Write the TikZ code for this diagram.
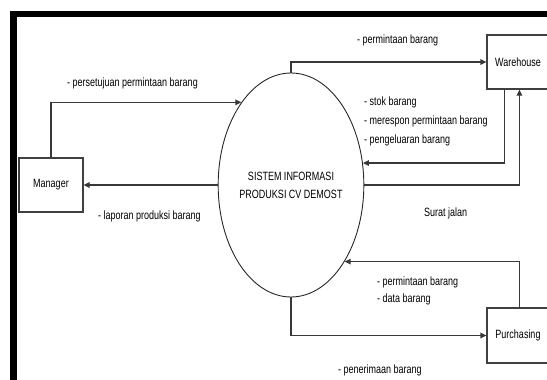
\documentclass[tikz,border=0pt]{standalone}
\usepackage{fontspec}
\setmainfont{Liberation Sans}[FakeStretch=0.75]
\usetikzlibrary{arrows.meta,calc,shapes.geometric}

\tikzset{
  entity/.style={draw=black!75, line width=1.2pt, minimum width=64pt, minimum height=54pt,
    inner sep=0pt, font=\fontsize{12}{14}\selectfont},
  process/.style={draw=black!85, line width=0.9pt, ellipse, minimum width=132pt,
    minimum height=224pt, inner sep=0pt, align=center, font=\fontsize{12}{18}\selectfont},
  flow/.style={draw=black!78, line width=1.2pt, -{Triangle[length=6pt,width=5.5pt]}},
  lbl/.style={anchor=west, inner sep=0pt, align=left, font=\fontsize{12}{19}\selectfont}
}

\begin{document}
\begin{tikzpicture}[x=1pt, y=-1pt]
  \useasboundingbox (0,0) rectangle (547,380);
  \clip (0,0) rectangle (547,380);

  % heavy frame on the left and top
  \fill[black] (10,11) rectangle (17,380);
  \fill[black] (10,11) rectangle (547,17);

  % external entities and the central process
  \node[entity] (mgr) at (51,185) {Manager};
  \node[entity, minimum width=62pt] (wh) at (518,62) {Warehouse};
  \node[entity, minimum width=62pt, minimum height=55pt] (pur) at (518,335.5) {Purchasing};
  \node[process] (sys) at (291,185) {SISTEM INFORMASI\\PRODUKSI CV DEMOST};

  % connection points on the entity boxes
  \coordinate (whA) at ($(wh.south west)+(18,0)$);
  \coordinate (whB) at ($(wh.south west)+(33,0)$);
  \coordinate (purA) at ($(pur.north west)+(33,0)$);

  % data flows
  \draw[flow] (mgr.north) |- (sys.121);
  \draw[flow] (sys.west) -- (mgr.east);
  \draw[flow] (sys.north) |- (wh.west);
  \draw[flow] (whA) |- (sys.17);
  \draw[flow] (sys.east) -| (whB);
  \draw[flow] (purA) |- (sys.-55);
  \draw[flow] (sys.south) |- (pur.west);

  % flow labels
  \node[lbl] (l1) at (67,83) {- persetujuan permintaan barang};
  \node[lbl] (l2) at (98,216) {- laporan produksi barang};
  \node[lbl] (l3) at (357,40) {- permintaan barang};
  \node[lbl] (l4) at (364,121) {- stok barang\\- merespon permintaan barang\\- pengeluaran barang};
  \node[lbl] (l5) at (424,213) {Surat jalan};
  \node[lbl, font=\fontsize{12}{17}\selectfont] (l6) at (377,290.5) {- permintaan barang\\- data barang};
  \node[lbl] (l7) at (338,370) {- penerimaan barang};
\end{tikzpicture}
\end{document}
